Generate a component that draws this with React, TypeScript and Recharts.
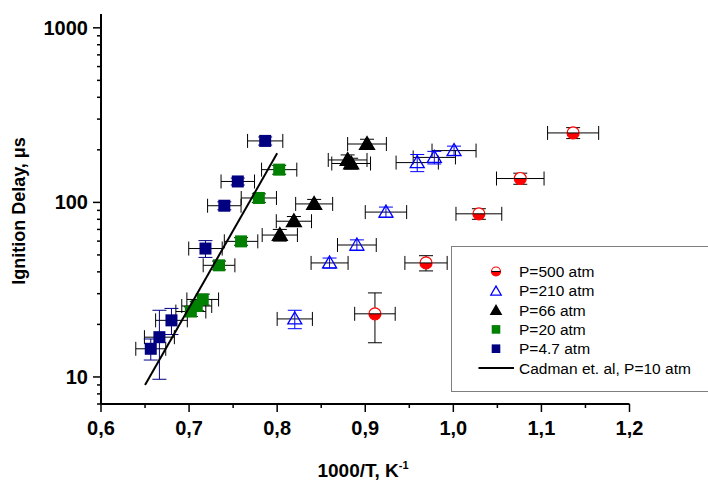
import React from 'react';
import { ScatterChart, Scatter, XAxis, YAxis, ErrorBar, Legend } from 'recharts';

// P=500 atm
const p500X = [0.911, 0.969, 1.029, 1.076, 1.136];
const p500Y = [23, 45, 86, 137, 250];
const p500XErr = [0.023, 0.024, 0.026, 0.027, 0.029];
const p500YErr = [7.3, 4.5, 6, 10, 18];

// P=210 atm
const p210X = [0.82, 0.8595, 0.8905, 0.9235, 0.959, 0.9784, 1.0008];
const p210Y = [21.5, 45, 57, 88, 169, 181, 198];
const p210XErr = [0.02, 0.021, 0.022, 0.0235, 0.024, 0.024, 0.025];
const p210YErr = [2.6, 3, 4, 6, 19, 15, 12];

// P=66 atm
const p66X = [0.803, 0.819, 0.842, 0.88, 0.884, 0.902];
const p66Y = [65, 78, 98, 175, 167, 216];
const p66XErr = [0.02, 0.02, 0.021, 0.022, 0.022, 0.022];
const p66YErr = [5, 5, 6, 12, 12, 14];

// P=20 atm
const p20X = [0.702, 0.7087, 0.7155, 0.734, 0.759, 0.7792, 0.8023];
const p20Y = [23.7, 25.5, 27.8, 43.6, 59.8, 106, 154];
const p20XErr = [0.017, 0.017, 0.018, 0.018, 0.019, 0.02, 0.02];
const p20YErr = [1.5, 1.5, 2, 2.5, 3, 6, 9];

// P=4.7 atm
const p47X = [0.6565, 0.6663, 0.68, 0.7186, 0.74, 0.7553, 0.7864];
const p47Y = [14.5, 16.9, 21.1, 54.4, 95.7, 131.8, 225];
const p47XErr = [0.017, 0.017, 0.018, 0.019, 0.019, 0.019, 0.02];
const p47YErr = [2, 7.2, 3.6, 6, 5, 6, 12];

// Cadman et al, P=10 atm
const cadmanX = [0.65, 0.8];
const cadmanY = [9.0, 191];

const seriesNames = ['P=500 atm', 'P=210 atm', 'P=66 atm', 'P=20 atm', 'P=4.7 atm', 'Cadman et. al, P=10 atm'];

const xTicks = [0.6, 0.65, 0.7, 0.75, 0.8, 0.85, 0.9, 0.95, 1.0, 1.05, 1.1, 1.15, 1.2];
const yTicks = [7, 8, 9, 10, 20, 30, 40, 50, 60, 70, 80, 90, 100, 200, 300, 400, 500, 600, 700, 800, 900, 1000];
const yMajor = [10, 100, 1000];

const build = (xs: number[], ys: number[], xe?: number[], ye?: number[]) =>
  xs.map((x, i) => ({ x, y: ys[i], xErr: xe ? xe[i] : 0, yErr: ye ? ye[i] : 0 }));

const p500 = build(p500X, p500Y, p500XErr, p500YErr);
const p210 = build(p210X, p210Y, p210XErr, p210YErr);
const p66 = build(p66X, p66Y, p66XErr, p66YErr);
const p20 = build(p20X, p20Y, p20XErr, p20YErr);
const p47 = build(p47X, p47Y, p47XErr, p47YErr);
const cadman = build(cadmanX, cadmanY);

const FONT = '"Liberation Sans", Arial, sans-serif';
const RED = '#ff0000';
const BLUE = '#0000ff';
const GREEN = '#008000';
const NAVY = '#000080';

const HalfCircle = ({ cx, cy, r = 6 }: any) => (
  <g>
    <circle cx={cx} cy={cy} r={r} fill="#fff" stroke={RED} strokeWidth={1.2} />
    <path d={`M${cx - r},${cy} A${r},${r} 0 0,0 ${cx + r},${cy} Z`} fill={RED} />
    <line x1={cx - r} x2={cx + r} y1={cy} y2={cy} stroke="#000" strokeWidth={1} />
  </g>
);

const Triangle = ({ cx, cy, s = 7, fill, stroke }: any) => (
  <polygon
    points={`${cx},${cy - s} ${cx - s},${cy + s * 0.72} ${cx + s},${cy + s * 0.72}`}
    fill={fill}
    stroke={stroke}
    strokeWidth={1.3}
  />
);

const Square = ({ cx, cy, s = 6, fill }: any) => (
  <rect x={cx - s} y={cy - s} width={s * 2} height={s * 2} fill={fill} />
);

const XTick = ({ x, y, payload }: any) => {
  const v = payload.value;
  const major = Math.abs(v * 10 - Math.round(v * 10)) < 1e-6;
  return (
    <g>
      <line x1={x} x2={x} y1={y} y2={y + (major ? 8 : 4)} stroke="#000" strokeWidth={1.5} />
      {major && (
        <text x={x} y={y + 31} textAnchor="middle" fontFamily={FONT} fontWeight="bold" fontSize={20} fill="#000">
          {v.toFixed(1).replace('.', ',')}
        </text>
      )}
    </g>
  );
};

const YTick = ({ x, y, payload }: any) => {
  const v = payload.value;
  const major = yMajor.includes(v);
  return (
    <g>
      <line x1={x} x2={x - (major ? 8 : 4)} y1={y} y2={y} stroke="#000" strokeWidth={1.5} />
      {major && (
        <text x={x - 13} y={y + 7} textAnchor="end" fontFamily={FONT} fontWeight="bold" fontSize={20} fill="#000">
          {v}
        </text>
      )}
    </g>
  );
};

const LegendBox = () => {
  const rowY = (i: number) => 24.5 + i * 19.3;
  const sx = 44;
  return (
    <svg width={262} height={146} style={{ display: 'block' }}>
      <HalfCircle cx={sx} cy={rowY(0)} r={4.5} />
      <Triangle cx={sx} cy={rowY(1) + 0.5} s={5.2} fill="none" stroke={BLUE} />
      <Triangle cx={sx} cy={rowY(2) + 0.5} s={5.2} fill="#000" stroke="#000" />
      <Square cx={sx} cy={rowY(3)} s={4.3} fill={GREEN} />
      <Square cx={sx} cy={rowY(4)} s={4.3} fill={NAVY} />
      <line x1={26.5} x2={62} y1={rowY(5)} y2={rowY(5)} stroke="#000" strokeWidth={2} />
      {seriesNames.map((n, i) => (
        <text key={n} x={67} y={rowY(i) + 5.5} fontFamily={FONT} fontSize={15.5} fill="#000">
          {n}
        </text>
      ))}
    </svg>
  );
};

export default function App() {
  return (
    <div style={{ position: 'absolute', left: 0, top: 0, width: 708, height: 480, overflow: 'hidden', background: '#fff' }}>
      <ScatterChart width={708} height={480} margin={{ top: 14, right: 78.5, bottom: 0, left: 0 }}>
        <XAxis
          dataKey="x"
          type="number"
          domain={[0.6, 1.2]}
          allowDataOverflow
          ticks={xTicks}
          interval={0}
          tickSize={0}
          tickMargin={0}
          tickLine={false}
          tick={<XTick />}
          height={76}
          axisLine={{ stroke: '#000', strokeWidth: 2 }}
          label={{
            content: () => (
              <text x={363} y={477} textAnchor="middle" fontFamily={FONT} fontWeight="bold" fontSize={19} fill="#000">
                1000/T, K
                <tspan dy={-8} fontSize={11}>-1</tspan>
              </text>
            ),
          }}
        />
        <XAxis
          xAxisId="top"
          orientation="top"
          type="number"
          domain={[0.6, 1.2]}
          height={0}
          tick={false}
          tickLine={false}
          axisLine={{ stroke: '#000', strokeWidth: 2 }}
        />
        <YAxis
          dataKey="y"
          type="number"
          scale="log"
          domain={[7, 1200]}
          allowDataOverflow
          ticks={yTicks}
          interval={0}
          tickSize={0}
          tickMargin={0}
          tickLine={false}
          tick={<YTick />}
          width={101}
          axisLine={{ stroke: '#000', strokeWidth: 2 }}
          label={{
            content: () => (
              <text
                x={25}
                y={211}
                transform="rotate(-90 25 211)"
                textAnchor="middle"
                fontFamily={FONT}
                fontWeight="bold"
                fontSize={18}
                fill="#000"
              >
                Ignition Delay, μs
              </text>
            ),
          }}
        />
        <YAxis
          yAxisId="right"
          orientation="right"
          type="number"
          domain={[0, 1]}
          width={0}
          tick={false}
          tickLine={false}
          axisLine={{ stroke: '#000', strokeWidth: 2 }}
        />
        <Scatter name={seriesNames[0]} data={p500} isAnimationActive={false} shape={<HalfCircle />}>
          <ErrorBar dataKey="xErr" direction="x" width={7} stroke="#000" strokeWidth={1} />
          <ErrorBar dataKey="yErr" direction="y" width={7} stroke="#000" strokeWidth={1} />
        </Scatter>
        <Scatter name={seriesNames[1]} data={p210} isAnimationActive={false} shape={<Triangle s={7} fill="none" stroke={BLUE} />}>
          <ErrorBar dataKey="xErr" direction="x" width={7} stroke="#000" strokeWidth={1} />
          <ErrorBar dataKey="yErr" direction="y" width={7} stroke={BLUE} strokeWidth={1} />
        </Scatter>
        <Scatter name={seriesNames[2]} data={p66} isAnimationActive={false} shape={<Triangle s={7.5} fill="#000" stroke="#000" />}>
          <ErrorBar dataKey="xErr" direction="x" width={7} stroke="#000" strokeWidth={1} />
          <ErrorBar dataKey="yErr" direction="y" width={7} stroke="#000" strokeWidth={1} />
        </Scatter>
        <Scatter name={seriesNames[3]} data={p20} isAnimationActive={false} shape={<Square s={6} fill={GREEN} />}>
          <ErrorBar dataKey="xErr" direction="x" width={7} stroke="#000" strokeWidth={1} />
          <ErrorBar dataKey="yErr" direction="y" width={7} stroke="#000" strokeWidth={1} />
        </Scatter>
        <Scatter name={seriesNames[4]} data={p47} isAnimationActive={false} shape={<Square s={6} fill={NAVY} />}>
          <ErrorBar dataKey="xErr" direction="x" width={7} stroke="#000" strokeWidth={1} />
          <ErrorBar dataKey="yErr" direction="y" width={7} stroke={NAVY} strokeWidth={1} />
        </Scatter>
        <Scatter
          name={seriesNames[5]}
          data={cadman}
          isAnimationActive={false}
          line={{ stroke: '#000', strokeWidth: 2 }}
          shape={() => <g />}
        />
        <Legend
          layout="vertical"
          align="center"
          verticalAlign="middle"
          content={() => <LegendBox />}
          wrapperStyle={{
            left: 451,
            top: 246,
            width: 262,
            height: 146,
            border: '1.5px solid #7f7f7f',
            background: '#fff',
            boxSizing: 'border-box',
          }}
        />
      </ScatterChart>
    </div>
  );
}
